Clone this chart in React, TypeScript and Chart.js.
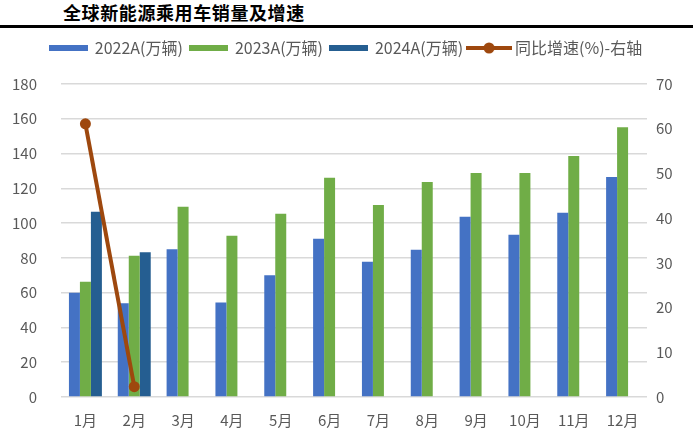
import React, { useEffect, useRef } from 'react';
import { Chart, registerables } from 'chart.js';

Chart.register(...registerables);

const titleText = '全球新能源乘用车销量及增速';
const categories = ['1月', '2月', '3月', '4月', '5月', '6月', '7月', '8月', '9月', '10月', '11月', '12月'];
const sales2022 = [60, 53.9, 84.9, 54.4, 70, 91, 77.8, 84.7, 103.7, 93.3, 106, 126.5];
const sales2023 = [66.3, 81.3, 109.4, 92.8, 105.4, 126.1, 110.4, 123.6, 128.8, 128.8, 138.6, 155.1];
const sales2024 = [106.6, 83.2, null, null, null, null, null, null, null, null, null, null];
const yoyGrowth = [61.1, 2.3, null, null, null, null, null, null, null, null, null, null];
const seriesNames = ['2022A(万辆)', '2023A(万辆)', '2024A(万辆)', '同比增速(%)-右轴'];
const seriesColors = ['#4472C4', '#70AD47', '#255E91', '#9E480E'];
const leftAxisMax = 180;
const leftAxisStep = 20;
const rightAxisMax = 70;
const rightAxisStep = 10;

const FONT = '"Noto Sans CJK SC", "Noto Sans", sans-serif';
const TEXT_COLOR = '#595959';

function makeRectSwatch(color: string) {
  const c = document.createElement('canvas');
  c.width = 39;
  c.height = 6;
  const ctx = c.getContext('2d')!;
  ctx.fillStyle = color;
  ctx.fillRect(0, 0, c.width, c.height);
  return c;
}

function makeLineSwatch(color: string) {
  const c = document.createElement('canvas');
  c.width = 46;
  c.height = 12;
  const ctx = c.getContext('2d')!;
  ctx.strokeStyle = color;
  ctx.lineWidth = 4;
  ctx.beginPath();
  ctx.moveTo(0, 6);
  ctx.lineTo(46, 6);
  ctx.stroke();
  ctx.fillStyle = color;
  ctx.beginPath();
  ctx.arc(23, 6, 5.5, 0, Math.PI * 2);
  ctx.fill();
  return c;
}

export default function App() {
  const canvasRef = useRef<HTMLCanvasElement | null>(null);

  useEffect(() => {
    if (!canvasRef.current) return;
    const swatches = [
      makeRectSwatch(seriesColors[0]),
      makeRectSwatch(seriesColors[1]),
      makeRectSwatch(seriesColors[2]),
      makeLineSwatch(seriesColors[3]),
    ];
    const chart = new Chart(canvasRef.current, {
      data: {
        labels: categories,
        datasets: [
          {
            type: 'bar',
            label: seriesNames[0],
            data: sales2022,
            backgroundColor: seriesColors[0],
            yAxisID: 'y',
            categoryPercentage: 0.675,
            barPercentage: 1,
            order: 2,
          },
          {
            type: 'bar',
            label: seriesNames[1],
            data: sales2023,
            backgroundColor: seriesColors[1],
            yAxisID: 'y',
            categoryPercentage: 0.675,
            barPercentage: 1,
            order: 2,
          },
          {
            type: 'bar',
            label: seriesNames[2],
            data: sales2024 as any,
            backgroundColor: seriesColors[2],
            yAxisID: 'y',
            categoryPercentage: 0.675,
            barPercentage: 1,
            order: 2,
          },
          {
            type: 'line',
            label: seriesNames[3],
            data: yoyGrowth as any,
            borderColor: seriesColors[3],
            backgroundColor: seriesColors[3],
            borderWidth: 4,
            pointRadius: 5.5,
            pointBackgroundColor: seriesColors[3],
            pointBorderWidth: 0,
            yAxisID: 'y1',
            spanGaps: false,
            order: 1,
          },
        ],
      } as any,
      options: {
        responsive: false,
        animation: false,
        layout: { padding: { top: 32, left: 0, right: 0, bottom: 0 } },
        plugins: {
          legend: {
            position: 'top',
            align: 'center',
            labels: {
              usePointStyle: true,
              pointStyleWidth: 36,
              padding: 8,
              color: TEXT_COLOR,
              font: { family: FONT, size: 16 },
              generateLabels: (ch: any) =>
                ch.data.datasets.map((ds: any, i: number) => ({
                  text: ds.label,
                  pointStyle: swatches[i],
                  fillStyle: seriesColors[i],
                  strokeStyle: seriesColors[i],
                  lineWidth: 0,
                  hidden: false,
                  datasetIndex: i,
                  fontColor: TEXT_COLOR,
                })),
            },
          },
          title: {
            display: true,
            text: '',
            weight: 500,
            padding: { top: 17, bottom: 0 },
            font: { size: 1, lineHeight: 1 },
          },
          tooltip: { enabled: false },
        } as any,
        scales: {
          x: {
            grid: { display: false, drawTicks: false },
            border: { display: false },
            ticks: { color: TEXT_COLOR, font: { family: FONT, size: 15 }, padding: 14, maxRotation: 0 },
            afterFit: (s: any) => {
              s.height = 38;
            },
          },
          y: {
            position: 'left',
            min: 0,
            max: leftAxisMax,
            ticks: { stepSize: leftAxisStep, padding: 24, color: TEXT_COLOR, font: { family: FONT, size: 15 } },
            grid: { color: '#D9D9D9', lineWidth: 1.5, drawTicks: false },
            border: { display: false },
            afterFit: (s: any) => {
              s.width = 61;
            },
          },
          y1: {
            position: 'right',
            min: 0,
            max: rightAxisMax,
            ticks: { stepSize: rightAxisStep, padding: 9, color: TEXT_COLOR, font: { family: FONT, size: 15 } },
            grid: { display: false, drawTicks: false },
            border: { display: false },
            afterFit: (s: any) => {
              s.width = 46;
            },
          },
        } as any,
      },
    });
    return () => chart.destroy();
  }, []);

  return (
    <div style={{ position: 'fixed', left: 0, top: 0, width: 693, height: 435, background: '#fff', overflow: 'hidden' }}>
      <div
        style={{
          position: 'absolute',
          left: 63,
          top: 0,
          height: 24,
          lineHeight: '24px',
          fontFamily: FONT,
          fontWeight: 700,
          fontSize: 18,
          letterSpacing: '0.6px',
          color: '#000',
          whiteSpace: 'nowrap',
        }}
      >
        {titleText}
      </div>
      <div style={{ position: 'absolute', left: 0, top: 25, width: 693, height: 3, background: '#000' }} />
      <canvas ref={canvasRef} width={693} height={435} style={{ position: 'absolute', left: 0, top: 0 }} />
    </div>
  );
}
